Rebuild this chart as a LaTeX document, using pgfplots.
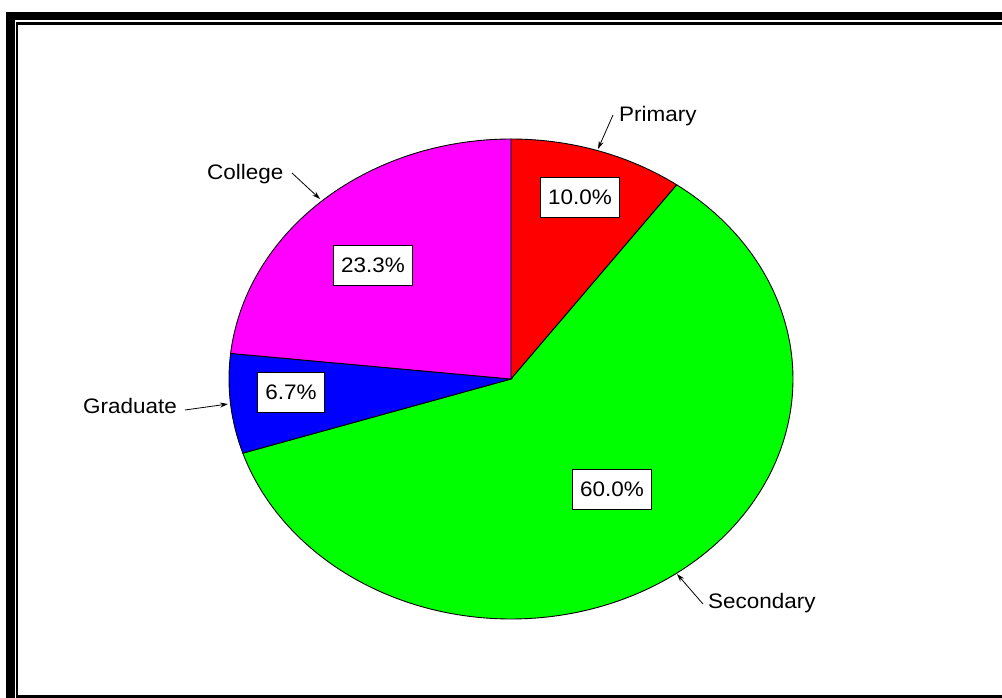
\documentclass[border=0pt]{standalone}
\usepackage{pgfplots}
\pgfplotsset{compat=1.18}
\usepackage{pgfplotstable}
\usepackage{fontspec}
\setmainfont{Liberation Sans}[FakeStretch=1.07]
\usetikzlibrary{arrows.meta}

\definecolor{pRed}{RGB}{255,0,0}
\definecolor{pGreen}{RGB}{0,255,0}
\definecolor{pBlue}{RGB}{0,0,255}
\definecolor{pMagenta}{RGB}{255,0,255}

\pgfplotstableread{
name value
Primary 10.0
Secondary 60.0
Graduate 6.7
College 23.3
}\piedata

\newcommand{\lbl}{\fontsize{21pt}{25pt}\selectfont}

\begin{document}
\begin{tikzpicture}
\pgfplotstablegetelem{0}{value}\of\piedata \let\vA\pgfplotsretval
\pgfplotstablegetelem{1}{value}\of\piedata \let\vB\pgfplotsretval
\pgfplotstablegetelem{2}{value}\of\piedata \let\vC\pgfplotsretval
\pgfplotstablegetelem{3}{value}\of\piedata \let\vD\pgfplotsretval
\pgfmathsetmacro\aA{90-3.6*\vA}
\pgfmathsetmacro\aB{\aA-3.6*\vB}
\pgfmathsetmacro\aC{\aB-3.6*\vC}
\pgfmathsetmacro\aD{\aC-3.6*\vD}
\useasboundingbox (0,0) rectangle (1002pt,698pt);
\begin{axis}[
  at={(0,0)}, anchor=south west,
  hide axis, scale only axis,
  width=1002pt, height=698pt,
  xmin=0, xmax=1002, ymin=0, ymax=698,
  y dir=reverse,
]
% frame
\fill[black] (axis cs:6,12) rectangle (axis cs:1010,20.5);
\fill[black] (axis cs:6,12) rectangle (axis cs:15,710);
\fill[black] (axis cs:16,22.5) rectangle (axis cs:1010,25);
\fill[black] (axis cs:16,22.5) rectangle (axis cs:18.3,710);
\fill[black] (axis cs:16,694.8) rectangle (axis cs:1010,710);

% slices
\addplot[fill=pRed, draw=black, line width=0.9pt, domain=\aA:90, samples=40, variable=\t]
  ({511+282*cos(\t)},{379-240*sin(\t)}) -- (axis cs:511,379) -- cycle;
\addplot[fill=pGreen, draw=black, line width=0.9pt, domain=\aB:\aA, samples=150, variable=\t]
  ({511+282*cos(\t)},{379-240*sin(\t)}) -- (axis cs:511,379) -- cycle;
\addplot[fill=pBlue, draw=black, line width=0.9pt, domain=\aC:\aB, samples=30, variable=\t]
  ({511+282*cos(\t)},{379-240*sin(\t)}) -- (axis cs:511,379) -- cycle;
\addplot[fill=pMagenta, draw=black, line width=0.9pt, domain=\aD:\aC, samples=80, variable=\t]
  ({511+282*cos(\t)},{379-240*sin(\t)}) -- (axis cs:511,379) -- cycle;

% percentage boxes
\tikzset{pbox/.style={draw=black, fill=white, line width=0.9pt, inner xsep=8pt,
  minimum height=40pt, text height=14.5pt, text depth=0pt, font=\lbl}}
\node[pbox] at (axis cs:580,197) {10.0\%};
\node[pbox] at (axis cs:373,265) {23.3\%};
\node[pbox] at (axis cs:291,392) {6.7\%};
\node[pbox] at (axis cs:612,489) {60.0\%};

% outside labels
\tikzset{arr/.style={line width=0.8pt, -{Stealth[length=8pt,width=5pt]}}}
\node[anchor=base west, font=\lbl, inner sep=0pt] at (axis cs:619,122) {Primary};
\draw[arr] (axis cs:613,115) -- (axis cs:598,149);
\node[anchor=base west, font=\lbl, inner sep=0pt] at (axis cs:207,179) {College};
\draw[arr] (axis cs:292,173) -- (axis cs:320,199);
\node[anchor=base west, font=\lbl, inner sep=0pt] at (axis cs:83,413) {Graduate};
\draw[arr] (axis cs:185,410) -- (axis cs:228,404);
\node[anchor=base west, font=\lbl, inner sep=0pt] at (axis cs:708,608) {Secondary};
\draw[arr] (axis cs:703,604) -- (axis cs:677,574);
\end{axis}
\end{tikzpicture}
\end{document}
